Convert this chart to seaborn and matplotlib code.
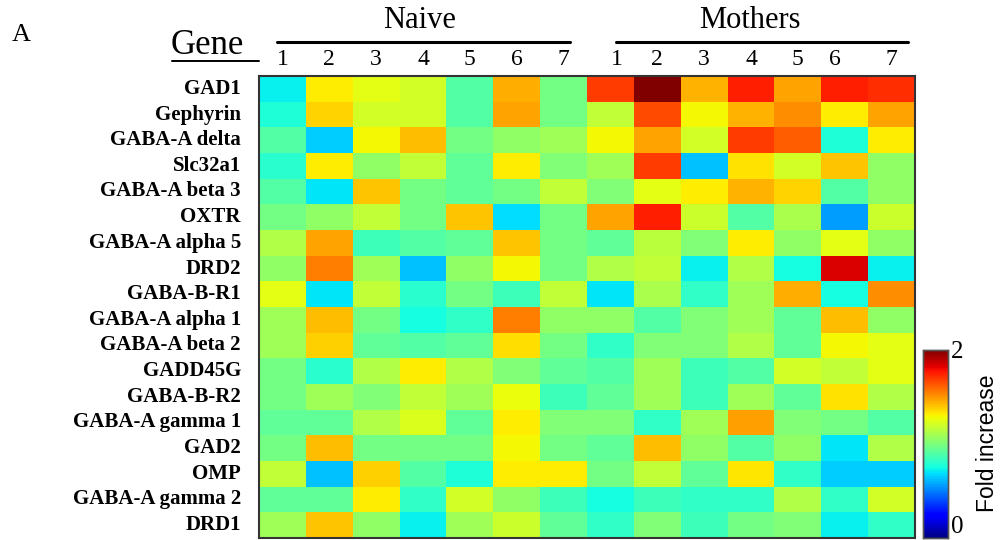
import numpy as np
import pandas as pd
import matplotlib
matplotlib.use("Agg")
import matplotlib.pyplot as plt
import seaborn as sns

genes = ["GAD1", "Gephyrin", "GABA-A delta", "Slc32a1", "GABA-A beta 3", "OXTR",
         "GABA-A alpha 5", "DRD2", "GABA-B-R1", "GABA-A alpha 1", "GABA-A beta 2",
         "GADD45G", "GABA-B-R2", "GABA-A gamma 1", "GAD2", "OMP", "GABA-A gamma 2", "DRD1"]

sample_labels = ["1", "2", "3", "4", "5", "6", "7"]
groups = ["Naive", "Mothers"]

naive = [
    [0.72, 1.32, 1.25, 1.21, 0.90, 1.45, 0.98],
    [0.78, 1.37, 1.21, 1.21, 0.90, 1.47, 0.98],
    [0.90, 0.65, 1.29, 1.42, 0.98, 1.05, 1.09],
    [0.80, 1.32, 1.05, 1.17, 0.93, 1.32, 1.01],
    [0.90, 0.70, 1.40, 0.98, 0.93, 0.98, 1.17],
    [0.98, 1.05, 1.17, 0.98, 1.40, 0.68, 0.98],
    [1.13, 1.47, 0.85, 0.90, 0.93, 1.40, 0.98],
    [1.05, 1.55, 1.09, 0.625, 1.05, 1.29, 0.98],
    [1.25, 0.70, 1.17, 0.80, 0.98, 0.85, 1.17],
    [1.09, 1.42, 0.98, 0.75, 0.82, 1.55, 1.05],
    [1.09, 1.38, 0.93, 0.90, 0.93, 1.35, 0.98],
    [0.98, 0.80, 1.13, 1.32, 1.13, 1.01, 0.93],
    [0.98, 1.09, 1.01, 1.17, 1.09, 1.27, 0.85],
    [0.93, 0.93, 1.13, 1.23, 0.93, 1.32, 1.01],
    [0.98, 1.42, 0.98, 0.98, 0.98, 1.29, 0.98],
    [1.17, 0.625, 1.38, 0.90, 0.78, 1.32, 1.32],
    [0.93, 0.93, 1.32, 0.82, 1.21, 1.05, 0.85],
    [1.09, 1.40, 1.05, 0.72, 1.09, 1.19, 0.93],
]

mothers = [
    [1.69, 2.00, 1.44, 1.75, 1.47, 1.75, 1.72],
    [1.17, 1.66, 1.29, 1.44, 1.52, 1.32, 1.47],
    [1.29, 1.47, 1.21, 1.69, 1.62, 0.78, 1.32],
    [1.09, 1.69, 0.625, 1.34, 1.21, 1.40, 1.05],
    [1.01, 1.25, 1.32, 1.44, 1.37, 0.90, 1.05],
    [1.47, 1.75, 1.19, 0.90, 1.11, 0.56, 1.19],
    [0.93, 1.15, 1.01, 1.32, 1.05, 1.25, 1.05],
    [1.13, 1.17, 0.72, 1.13, 0.75, 1.84, 0.72],
    [0.70, 1.11, 0.82, 1.09, 1.45, 0.75, 1.52],
    [1.05, 0.90, 1.01, 1.09, 0.93, 1.42, 1.05],
    [0.82, 1.01, 1.01, 1.13, 0.93, 1.29, 1.25],
    [0.90, 1.09, 0.85, 0.90, 1.21, 1.17, 1.25],
    [0.93, 1.09, 0.85, 1.09, 0.93, 1.34, 1.13],
    [1.01, 0.82, 1.09, 1.48, 1.01, 0.98, 0.90],
    [0.93, 1.42, 1.05, 0.90, 1.05, 0.70, 1.13],
    [0.98, 1.17, 0.93, 1.33, 0.82, 0.65, 0.65],
    [0.75, 0.85, 0.82, 0.82, 1.13, 0.82, 1.21],
    [0.82, 1.01, 0.85, 0.98, 1.01, 0.72, 0.82],
]

cols = [f"{g} {s}" for g in groups for s in sample_labels]
df = pd.DataFrame(np.hstack([np.array(naive), np.array(mothers)]), index=genes, columns=cols)

sns.set_style("white")
plt.rcParams["font.family"] = ["Liberation Serif", "DejaVu Serif"]
plt.rcParams["text.color"] = "black"
plt.rcParams["xtick.color"] = "black"
plt.rcParams["ytick.color"] = "black"

fig = plt.figure(figsize=(10.02, 5.40), dpi=100)
ax = fig.add_axes([259 / 1002, 1 - 538 / 540, (915 - 259) / 1002, (538 - 76) / 540])
cax = fig.add_axes([923 / 1002, 1 - 538 / 540, 25 / 1002, (538 - 350) / 540])

sns.heatmap(df, cmap="jet", vmin=0, vmax=2, ax=ax, cbar_ax=cax,
            xticklabels=sample_labels * 2, yticklabels=genes, linewidths=0)

ax.xaxis.tick_top()
# label placement as in the original figure (slightly irregular spacing)
tick_pos = np.arange(14) + 0.5
tick_pos[7] += 0.14
tick_pos[12] -= 0.21
ax.set_xticks(tick_pos)
ax.set_xticklabels(sample_labels * 2, rotation=0)
ax.tick_params(axis="x", length=0, pad=4, labelsize=17, labelcolor="black")
ax.tick_params(axis="y", length=0, pad=13, labelsize=15, labelcolor="black")
for lab in ax.get_yticklabels():
    lab.set_fontweight("bold")
    lab.set_rotation(0)
ax.set_xlabel("")
ax.set_ylabel("")
for s in ax.spines.values():
    s.set_visible(True)
    s.set_color("#333333")
    s.set_linewidth(1.5)

# colorbar
cax.set_yticks([0, 2])
cax.set_yticklabels(["0", "2"])
cax.yaxis.set_ticks_position("right")
cax.tick_params(axis="y", length=0, labelsize=18, pad=2, labelcolor="black")
labs = cax.get_yticklabels()
labs[0].set_verticalalignment("bottom")
cax.set_yticks(np.arange(0.25, 2.0, 0.25), minor=True)
cax.tick_params(axis="y", which="minor", left=True, right=False, direction="in", length=3, color="#555555")
for s in cax.spines.values():
    s.set_visible(True)
    s.set_color("#555555")
    s.set_linewidth(1)
fig.text(988 / 1002, 1 - 443 / 540, "Fold increase", rotation=90, ha="center", va="center",
         fontsize=16.5, family=["Liberation Sans", "DejaVu Sans"], color="black")

# group headers
fig.text(420 / 1002, 1 - 20 / 540, "Naive", ha="center", va="center", fontsize=22)
fig.text(750 / 1002, 1 - 20 / 540, "Mothers", ha="center", va="center", fontsize=22)
fig.add_artist(plt.Line2D([277 / 1002, 570 / 1002], [1 - 42 / 540] * 2, color="black", lw=2.2))
fig.add_artist(plt.Line2D([616 / 1002, 908 / 1002], [1 - 42 / 540] * 2, color="black", lw=2.2))

# Gene label underlined
fig.text(171 / 1002, 1 - 45 / 540, "Gene", ha="left", va="center", fontsize=25)
fig.add_artist(plt.Line2D([172 / 1002, 259 / 1002], [1 - 61 / 540] * 2, color="black", lw=1.4))

fig.text(12 / 1002, 1 - 35 / 540, "A", ha="left", va="center", fontsize=19)

fig.savefig("out.png", dpi=100)
